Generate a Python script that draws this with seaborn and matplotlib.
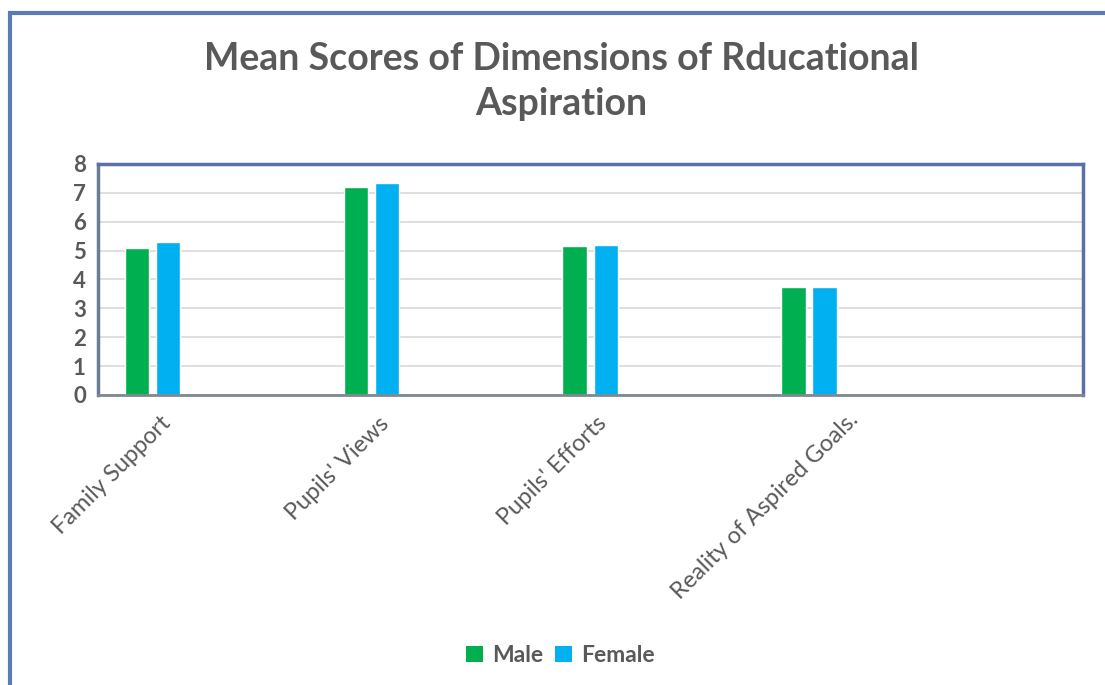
import matplotlib
matplotlib.use("Agg")
import matplotlib.pyplot as plt
import matplotlib.patches as mpatches
import matplotlib.transforms as mtransforms
import pandas as pd
import seaborn as sns

# Data
categories = ["Family Support", "Pupils' Views", "Pupils' Efforts", "Reality of Aspired Goals."]
male = [5.08, 7.20, 5.16, 3.75]
female = [5.29, 7.35, 5.21, 3.75]
groups = ["Male", "Female"]
colors = ["#00b050", "#00b0f0"]
y_ticks = [0, 1, 2, 3, 4, 5, 6, 7, 8]

df = pd.DataFrame({
    "Dimension": categories * 2,
    "Score": male + female,
    "Gender": [groups[0]] * len(categories) + [groups[1]] * len(categories),
})

sns.set_theme(style="white")
plt.rcParams["font.family"] = ["Lato", "DejaVu Sans"]

text_color = "#595959"

fig = plt.figure(figsize=(11.05, 6.85), dpi=100)
fig.patch.set_facecolor("white")
ax = fig.add_axes([0.089, 0.4234, 0.891, 0.3372])

sns.barplot(data=df, x="Dimension", y="Score", hue="Gender", order=categories,
            hue_order=groups, palette=colors, width=0.284, gap=0.21,
            saturation=1, ax=ax, legend=False)

ax.set_xlim(-0.247, 4.25)
ax.set_ylim(0, 8)
ax.set_yticks(y_ticks)
ax.set_yticklabels([str(t) for t in y_ticks], fontsize=16, color=text_color,
                   fontweight="bold")
ax.set_xlabel("")
ax.set_ylabel("")
ax.tick_params(axis="both", length=0, pad=9)
ax.tick_params(axis="x", pad=2)

ax.yaxis.grid(True, color="#d9d9d9", linewidth=1.2)
ax.set_axisbelow(True)

for side in ["top", "right"]:
    ax.spines[side].set_color("#5b70ab")
    ax.spines[side].set_linewidth(2.5)
ax.spines["left"].set_color("#6a7c98")
ax.spines["left"].set_linewidth(2.5)
ax.spines["bottom"].set_color("#7f8790")
ax.spines["bottom"].set_linewidth(2)

# Rotated category labels
ax.set_xticks(range(len(categories)))
ax.set_xticklabels(categories, rotation=45, ha="right", rotation_mode="anchor",
                   fontsize=17, color=text_color)
shifts = [(7, -15), (7, -15), (6, -15), (38, -11)]
for lab, (dx, dy) in zip(ax.get_xticklabels(), shifts):
    lab.set_transform(lab.get_transform() +
                      mtransforms.ScaledTranslation(dx / 100, dy / 100, fig.dpi_scale_trans))

fig.suptitle("Mean Scores of Dimensions of Rducational\nAspiration",
             x=0.508, y=0.938, fontsize=27, fontweight="bold", color=text_color,
             linespacing=1.38, va="top")

handles = [mpatches.Patch(facecolor=c, edgecolor="none", label=g)
           for g, c in zip(groups, colors)]
fig.legend(handles=handles, loc="center", bbox_to_anchor=(0.507, 0.043), ncol=2,
           frameon=False, handlelength=0.75, handleheight=0.75,
           handletextpad=0.4, columnspacing=0.5, labelcolor=text_color,
           prop={"weight": "bold", "size": 16.5})

# Outer chart frame
frame = mpatches.Rectangle((10 / 1105, -0.05), 1.2, 1 - 13 / 685 + 0.05,
                           transform=fig.transFigure, fill=False,
                           edgecolor="#5b7bb5", linewidth=3, clip_on=False)
fig.patches.append(frame)

fig.savefig("out.png", dpi=100)
